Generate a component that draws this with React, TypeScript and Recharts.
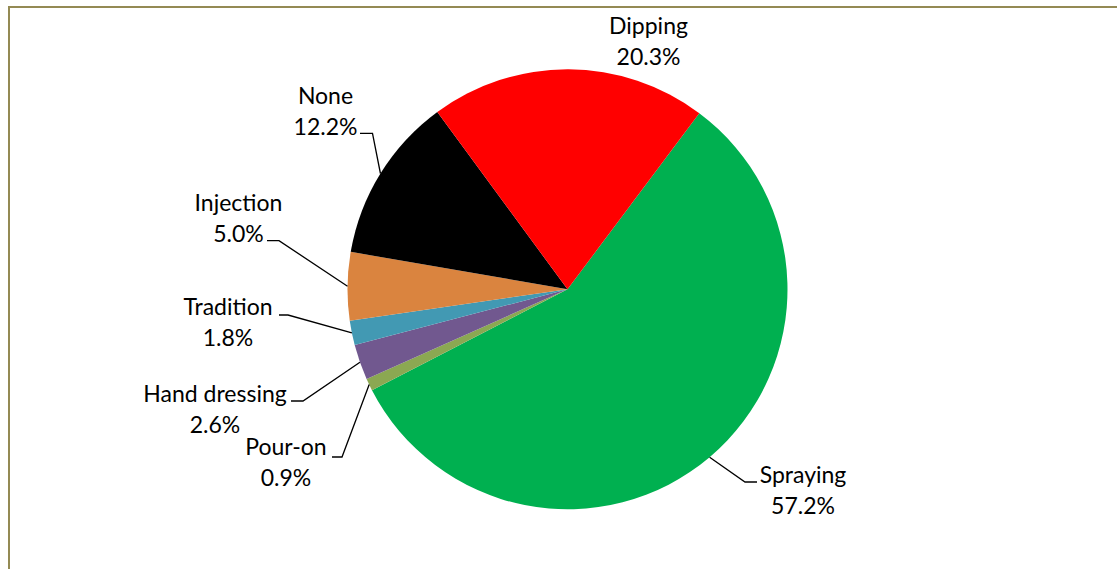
import { PieChart, Pie, Cell } from "recharts";

const methods = [
  "Spraying",
  "Pour-on",
  "Hand dressing",
  "Tradition",
  "Injection",
  "None",
  "Dipping",
];
const shares = [57.2, 0.9, 2.6, 1.8, 5.0, 12.2, 20.3];
const COLORS = [
  "#00B050",
  "#8BA852",
  "#71588F",
  "#4299B3",
  "#DA843F",
  "#000000",
  "#FF0000",
];

// label placement relative to the pie centre: text centre x, first baseline y,
// leader elbow (y, x from, x to); noLine means no leader line
const LABEL_LAYOUT = [
  { tx: 235.5, ty: 193.7, ly: 192.7, lx1: 189.5, lx2: 177.5 },
  { tx: -281.5, ty: 165.7, ly: 167.7, lx1: -235.5, lx2: -225.5 },
  { tx: -352.5, ty: 112.7, ly: 111.7, lx1: -276.5, lx2: -264.5 },
  { tx: -339.5, ty: 25.7, ly: 25.7, lx1: -288.5, lx2: -279.5 },
  { tx: -329, ty: -78, ly: -48.6, lx1: -300.5, lx2: -288.5 },
  { tx: -242, ty: -185, ly: -156, lx1: -207.5, lx2: -195 },
  { tx: 81, ty: -255, ly: 0, lx1: 0, lx2: 0, noLine: true },
];

const data = methods.map((name, i) => ({ name, value: shares[i] }));

const RAD = Math.PI / 180;
const FONT = "Lato, 'Open Sans', sans-serif";

const renderLabel = (props: any) => {
  const { cx, cy, midAngle, outerRadius, index, value, name } = props;
  const l = LABEL_LAYOUT[index];
  const ex = cx + outerRadius * Math.cos(-midAngle * RAD);
  const ey = cy + outerRadius * Math.sin(-midAngle * RAD);
  return (
    <g key={`lbl-${index}`}>
      {!l.noLine && (
        <polyline
          points={`${cx + l.lx1},${cy + l.ly} ${cx + l.lx2},${cy + l.ly} ${ex},${ey}`}
          fill="none"
          stroke="#000"
          strokeWidth={1.3}
        />
      )}
      <text
        x={cx + l.tx}
        y={cy + l.ty}
        textAnchor="middle"
        fill="#000"
        fontFamily={FONT}
        fontSize={23}
      >
        <tspan x={cx + l.tx}>{name}</tspan>
        <tspan x={cx + l.tx} dy={30.5}>
          {`${Number(value).toFixed(1)}%`}
        </tspan>
      </text>
    </g>
  );
};

export default function App() {
  return (
    <div
      style={{
        position: "absolute",
        left: 0,
        top: 0,
        width: 1117,
        height: 569,
        overflow: "hidden",
        background: "#fff",
      }}
    >
      <div
        style={{
          position: "absolute",
          left: 8,
          top: 6,
          width: 1200,
          height: 700,
          border: "2px solid #948A54",
          boxSizing: "border-box",
        }}
      />
      <div style={{ position: "absolute", left: 0, top: 0 }}>
        <PieChart
          width={1117}
          height={569}
          margin={{ top: 0, right: 0, bottom: 0, left: 0 }}
        >
          <Pie
            data={data}
            dataKey="value"
            nameKey="name"
            cx={567.5}
            cy={289.3}
            outerRadius={220}
            startAngle={53.2}
            endAngle={-306.8}
            stroke="none"
            label={renderLabel}
            labelLine={false}
            isAnimationActive={false}
          >
            {data.map((entry, index) => (
              <Cell key={entry.name} fill={COLORS[index]} />
            ))}
          </Pie>
        </PieChart>
      </div>
    </div>
  );
}
